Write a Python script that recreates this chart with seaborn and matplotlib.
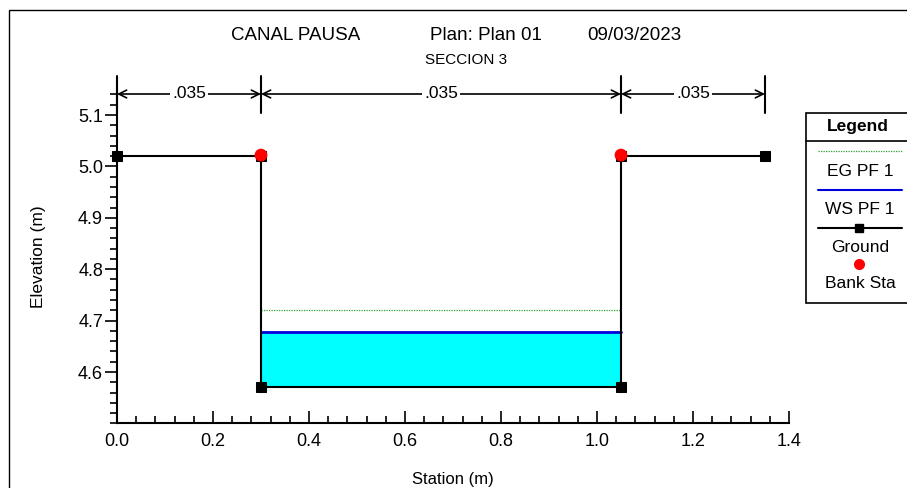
import matplotlib
matplotlib.use("Agg")
import matplotlib.pyplot as plt
from matplotlib.lines import Line2D
from matplotlib.patches import Rectangle
import matplotlib.transforms as mtrans
import seaborn as sns
import numpy as np
import pandas as pd

# ---- data ----
ground_station = [0.0, 0.30, 0.30, 1.05, 1.05, 1.35]
ground_elev = [5.02, 5.02, 4.57, 4.57, 5.02, 5.02]
bank_station = [0.30, 1.05]
bank_elev = [5.022, 5.022]
ws_station = [0.30, 1.05]
ws_elev = 4.678
eg_elev = 4.72
channel_bottom = 4.57
n_stations = [0.0, 0.30, 1.05, 1.35]
n_values = [".035", ".035", ".035"]
title_parts = ["CANAL PAUSA", "Plan: Plan 01", "09/03/2023"]
subtitle = "SECCION 3"
legend_labels = ["EG PF 1", "WS PF 1", "Ground", "Bank Sta"]

sns.set_theme(style="white")
plt.rcParams["font.family"] = ["Liberation Sans", "DejaVu Sans"]
plt.rcParams["text.color"] = "black"
plt.rcParams["axes.labelcolor"] = "black"
plt.rcParams["xtick.color"] = "black"
plt.rcParams["ytick.color"] = "black"

W, H = 907, 488
fig = plt.figure(figsize=(W / 100, H / 100), dpi=100)

def fx(px):
    return px / W

def fy(py):
    return 1 - py / H

ax_left, ax_right = 117, 789
ax_bottom = 423.4
ymin, ymax = 4.5, 5.15
ppu = 514
ax_top = ax_bottom - (ymax - ymin) * ppu
ax = fig.add_axes([fx(ax_left), fy(ax_bottom), fx(ax_right - ax_left), (ax_bottom - ax_top) / H])
ax.patch.set_alpha(0)

# water fill
ax.fill_between(ws_station, [channel_bottom] * 2, [ws_elev] * 2, color="#00FFFF", zorder=1, linewidth=0)
# EG line
sns.lineplot(x=ws_station, y=[eg_elev] * 2, ax=ax, color="#2ca02c", linestyle=(0, (1, 1)), linewidth=0.9, zorder=2)
# WS line
sns.lineplot(x=ws_station, y=[ws_elev] * 2, ax=ax, color="#0000DD", linewidth=2, zorder=3)
# ground
gdf = pd.DataFrame({"station": ground_station, "elev": ground_elev})
sns.lineplot(data=gdf, x="station", y="elev", sort=False, estimator=None, ax=ax, color="black",
             linewidth=1.5, marker="s", markersize=6.5, markeredgecolor="black", zorder=4, clip_on=False)
# bank stations
sns.scatterplot(x=bank_station, y=bank_elev, ax=ax, color="red", s=85, edgecolor="none", zorder=5, clip_on=False)

ax.set_xlim(0, 1.4)
ax.set_ylim(ymin, ymax)
for s in ["top", "right"]:
    ax.spines[s].set_visible(False)
for s in ["left", "bottom"]:
    ax.spines[s].set_color("black")
    ax.spines[s].set_linewidth(1.5)

xt = np.arange(0, 1.41, 0.2)
ax.set_xticks(xt)
ax.set_xticklabels([f"{v:.1f}" for v in xt])
ax.set_xticks(np.arange(0, 1.401, 0.04), minor=True)
yt = np.arange(4.6, 5.11, 0.1)
ax.set_yticks(yt)
ax.set_yticklabels([f"{v:.1f}" for v in yt])
ax.set_yticks(np.arange(4.5, 5.15, 0.02), minor=True)
ax.tick_params(axis="x", which="both", direction="in", bottom=True, labelsize=13, pad=7)
ax.tick_params(axis="x", which="major", length=9, width=1.2)
ax.tick_params(axis="x", which="minor", length=5, width=1.2)
ax.tick_params(axis="y", which="both", direction="out", left=True, labelsize=13, pad=1)
ax.tick_params(axis="y", which="major", length=9, width=1.2)
ax.tick_params(axis="y", which="minor", length=5, width=1.2)
ax.set_xlabel("Station (m)", fontsize=12, labelpad=16)
ax.set_ylabel("Elevation (m)", fontsize=12.5, labelpad=23)
ax.grid(False)

# Manning's n annotations
trans = mtrans.blended_transform_factory(ax.transData, fig.transFigure)
for st in n_stations:
    ax.add_line(Line2D([st, st], [fy(76), fy(113)], transform=trans, color="black", linewidth=1.5, clip_on=False))
for i, val in enumerate(n_values):
    a, b = n_stations[i], n_stations[i + 1]
    ax.annotate("", xy=(a, fy(94)), xytext=(b, fy(94)), xycoords=trans, textcoords=trans,
                arrowprops=dict(arrowstyle="<->", color="black", lw=1.2, shrinkA=0, shrinkB=0,
                                mutation_scale=14), annotation_clip=False)
    ax.text((a + b) / 2, fy(94), val, transform=trans, ha="center", va="center", fontsize=12.5,
            bbox=dict(facecolor="white", edgecolor="none", pad=1.5), zorder=10)

# titles
fig.text(fx(231), fy(35), title_parts[0], ha="left", va="center", fontsize=13.5)
fig.text(fx(430), fy(35), title_parts[1], ha="left", va="center", fontsize=13.5)
fig.text(fx(587), fy(35), title_parts[2], ha="left", va="center", fontsize=13.5)
fig.text(fx(466), fy(60), subtitle, ha="center", va="center", fontsize=11)

# outer frame
fig.add_artist(Rectangle((fx(9), fy(495)), 2, fy(10) - fy(495), transform=fig.transFigure,
                         fill=False, edgecolor="black", linewidth=1.0))

# legend box
lx0, lx1 = 806, 920
ly0, ly1 = 113, 303
fig.add_artist(Rectangle((fx(lx0), fy(ly1)), fx(lx1 - lx0), (ly1 - ly0) / H, transform=fig.transFigure,
                         fill=True, facecolor="white", edgecolor="black", linewidth=1.2, zorder=20))
fig.add_artist(Line2D([fx(lx0), fx(lx1)], [fy(141), fy(141)], transform=fig.transFigure, color="black", linewidth=1.2, zorder=21))
fig.text(fx(858), fy(127), "Legend", ha="center", va="center", fontsize=12.5, fontweight="bold", zorder=22)
sx0, sx1 = 818, 902
fig.add_artist(Line2D([fx(sx0), fx(sx1)], [fy(151), fy(151)], transform=fig.transFigure, color="#2ca02c",
                      linestyle=(0, (1, 1)), linewidth=0.9, zorder=21))
fig.text(fx(860), fy(172), legend_labels[0], ha="center", va="center", fontsize=12.5, zorder=22)
fig.add_artist(Line2D([fx(sx0), fx(sx1)], [fy(190), fy(190)], transform=fig.transFigure, color="#0000DD",
                      linewidth=1.5, zorder=21))
fig.text(fx(860), fy(210), legend_labels[1], ha="center", va="center", fontsize=12.5, zorder=22)
fig.add_artist(Line2D([fx(sx0), fx(sx1)], [fy(228), fy(228)], transform=fig.transFigure, color="black",
                      linewidth=1.5, zorder=21))
fig.add_artist(Line2D([fx(859)], [fy(228)], transform=fig.transFigure, color="black", marker="s",
                      markersize=6, linestyle="none", zorder=22))
fig.text(fx(860), fy(247), legend_labels[2], ha="center", va="center", fontsize=12.5, zorder=22)
fig.add_artist(Line2D([fx(859)], [fy(264)], transform=fig.transFigure, color="red", marker="o",
                      markersize=8, linestyle="none", markeredgecolor="none", zorder=22))
fig.text(fx(860), fy(284), legend_labels[3], ha="center", va="center", fontsize=12.5, zorder=22)

fig.savefig("out.png", dpi=100, facecolor="white")
